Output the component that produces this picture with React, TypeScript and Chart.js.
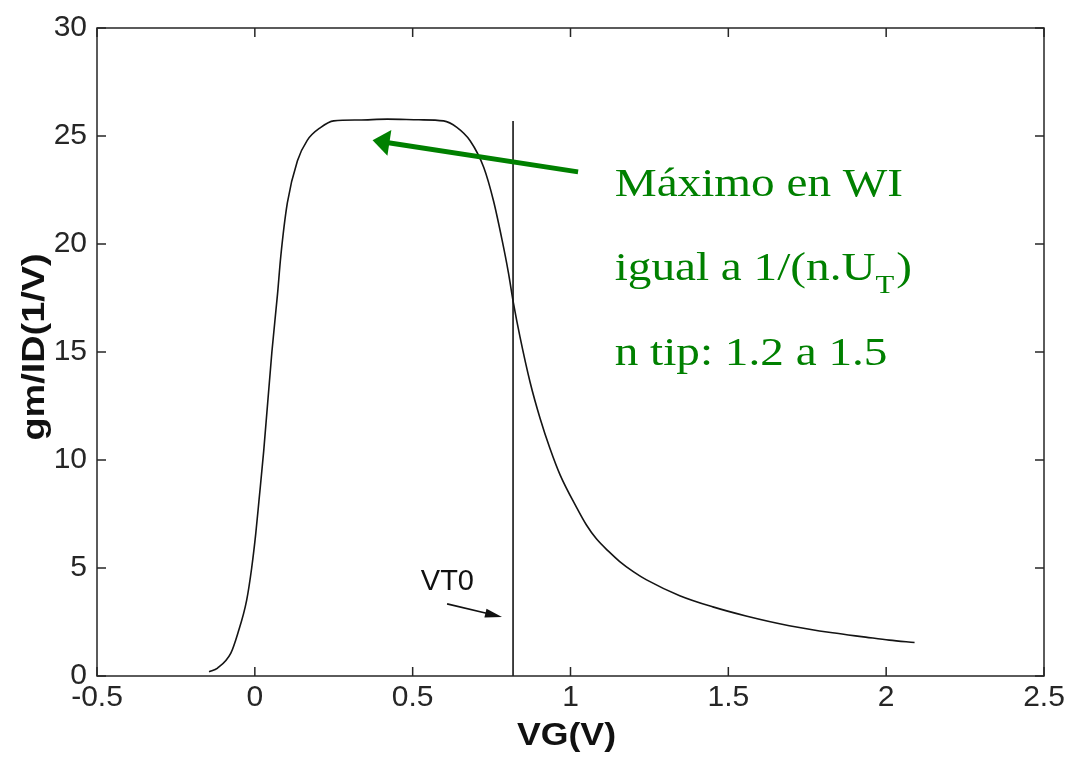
import React, { useEffect, useRef } from "react";
import { Chart, registerables } from "chart.js";

Chart.register(...registerables);

// ---- data ----
const vgValues = [
  -0.145, -0.118, -0.076, -0.054, -0.026, -0.01, 0.003, 0.013, 0.028, 0.054,
  0.072, 0.082, 0.103, 0.135, 0.166, 0.209, 0.25, 0.33, 0.42, 0.52, 0.598,
  0.64, 0.682, 0.725, 0.756, 0.783, 0.803, 0.82, 0.84, 0.872, 0.904, 0.935,
  0.967, 1.02, 1.05, 1.082, 1.12, 1.156, 1.2, 1.241, 1.346, 1.451, 1.556,
  1.693, 1.83, 1.935, 2.01, 2.09,
];
const gmIdValues = [
  0.2, 0.37, 1.06, 1.97, 3.5, 5.0, 6.6, 8.1, 10.4, 15.0, 17.7, 19.4, 21.9,
  23.85, 24.8, 25.4, 25.7, 25.74, 25.78, 25.75, 25.7, 25.4, 24.78, 23.55,
  22.0, 20.2, 18.7, 17.2, 15.7, 13.6, 11.91, 10.53, 9.31, 7.78, 7.0, 6.35,
  5.78, 5.3, 4.82, 4.45, 3.72, 3.2, 2.78, 2.33, 2.0, 1.8, 1.66, 1.55,
];
const vt0Value = 0.818;
const vt0LineTop = 25.7;

const xTickLabels = ["-0.5", "0", "0.5", "1", "1.5", "2", "2.5"];
const yTickLabels = ["0", "5", "10", "15", "20", "25", "30"];

const xTitle = "VG(V)";
const yTitle = "gm/ID(1/V)";
const vt0Label = "VT0";
const noteLines = ["Máximo en WI", "igual a 1/(n.U", "T", ")", "n tip: 1.2 a 1.5"];

// annotation anchors (data units)
const vt0LabelPos = { x: 0.61, y: 4.36 };
const vt0ArrowFrom = { x: 0.609, y: 3.34 };
const vt0ArrowTo = { x: 0.783, y: 2.73 };
const greenArrowFrom = { x: 1.024, y: 23.34 };
const greenArrowTo = { x: 0.373, y: 24.8 };
const noteX = 1.14;
const noteBaselines = [22.23, 18.33, 14.42];

const AXIS_COLOR = "#262626";
const GREEN = "#008000";
const SANS = '"Liberation Sans", Arial, Helvetica, sans-serif';
const SERIF = '"Liberation Serif", "Times New Roman", serif';

function drawArrow(
  ctx: CanvasRenderingContext2D,
  x1: number, y1: number, x2: number, y2: number,
  width: number, headLen: number, headHalf: number, color: string
) {
  const ang = Math.atan2(y2 - y1, x2 - x1);
  const c = Math.cos(ang), s = Math.sin(ang);
  const bx = x2 - headLen * c, by = y2 - headLen * s;
  ctx.save();
  ctx.strokeStyle = color;
  ctx.fillStyle = color;
  ctx.lineWidth = width;
  ctx.lineCap = "butt";
  ctx.beginPath();
  ctx.moveTo(x1, y1);
  ctx.lineTo(bx + c * 1, by + s * 1);
  ctx.stroke();
  ctx.beginPath();
  ctx.moveTo(x2, y2);
  ctx.lineTo(bx - s * headHalf, by + c * headHalf);
  ctx.lineTo(bx + s * headHalf, by - c * headHalf);
  ctx.closePath();
  ctx.fill();
  ctx.restore();
}

function stretchedText(
  ctx: CanvasRenderingContext2D, text: string, x: number, y: number,
  font: string, color: string, sx: number,
  align: CanvasTextAlign = "left", baseline: CanvasTextBaseline = "alphabetic",
  rotation = 0
): number {
  ctx.save();
  ctx.translate(x, y);
  if (rotation) ctx.rotate(rotation);
  ctx.scale(sx, 1);
  ctx.font = font;
  ctx.fillStyle = color;
  ctx.textAlign = align;
  ctx.textBaseline = baseline;
  ctx.fillText(text, 0, 0);
  const w = ctx.measureText(text).width * sx;
  ctx.restore();
  return w;
}

const overlayPlugin = {
  id: "overlay",
  afterDraw(chart: any) {
    const { ctx, chartArea: a } = chart;
    const xs = chart.scales.x;
    const ys = chart.scales.y;
    ctx.save();
    // box
    ctx.strokeStyle = AXIS_COLOR;
    ctx.lineWidth = 1.5;
    ctx.strokeRect(a.left, a.top, a.right - a.left, a.bottom - a.top);
    // inward ticks on all sides
    const tl = 9;
    ctx.beginPath();
    xs.ticks.forEach((t: any) => {
      const px = xs.getPixelForValue(t.value);
      ctx.moveTo(px, a.bottom);
      ctx.lineTo(px, a.bottom - tl);
      ctx.moveTo(px, a.top);
      ctx.lineTo(px, a.top + tl);
    });
    ys.ticks.forEach((t: any) => {
      const py = ys.getPixelForValue(t.value);
      ctx.moveTo(a.left, py);
      ctx.lineTo(a.left + tl, py);
      ctx.moveTo(a.right, py);
      ctx.lineTo(a.right - tl, py);
    });
    ctx.stroke();
    ctx.restore();

    // axis titles
    stretchedText(ctx, xTitle, (a.left + a.right) / 2 - 4, a.bottom + 60,
      `bold 31px ${SANS}`, "#111", 1.15, "center", "middle");
    stretchedText(ctx, yTitle, a.left - 62, (a.top + a.bottom) / 2 - 5,
      `bold 31px ${SANS}`, "#111", 1.22, "center", "middle", -Math.PI / 2);

    // VT0 label and small arrow
    stretchedText(ctx, vt0Label, xs.getPixelForValue(vt0LabelPos.x), ys.getPixelForValue(vt0LabelPos.y),
      `29px ${SANS}`, "#111", 1.0, "center", "middle");
    drawArrow(ctx,
      xs.getPixelForValue(vt0ArrowFrom.x), ys.getPixelForValue(vt0ArrowFrom.y),
      xs.getPixelForValue(vt0ArrowTo.x), ys.getPixelForValue(vt0ArrowTo.y),
      1.6, 17, 4.5, "#111");

    // green arrow
    drawArrow(ctx,
      xs.getPixelForValue(greenArrowFrom.x), ys.getPixelForValue(greenArrowFrom.y),
      xs.getPixelForValue(greenArrowTo.x), ys.getPixelForValue(greenArrowTo.y),
      5, 17, 13, GREEN);

    // green note
    const nx = xs.getPixelForValue(noteX);
    const sx = 1.18;
    const big = `40px ${SERIF}`;
    const small = `26px ${SERIF}`;
    stretchedText(ctx, noteLines[0], nx, ys.getPixelForValue(noteBaselines[0]), big, GREEN, sx);
    const b2 = ys.getPixelForValue(noteBaselines[1]);
    let w = stretchedText(ctx, noteLines[1], nx, b2, big, GREEN, sx);
    w += stretchedText(ctx, noteLines[2], nx + w, b2 + 13, small, GREEN, sx);
    stretchedText(ctx, noteLines[3], nx + w + 2, b2, big, GREEN, sx);
    stretchedText(ctx, noteLines[4], nx, ys.getPixelForValue(noteBaselines[2]), big, GREEN, sx);
  },
};

export default function App() {
  const canvasRef = useRef<HTMLCanvasElement | null>(null);

  useEffect(() => {
    document.body.style.margin = "0";
    const canvas = canvasRef.current;
    if (!canvas) return;
    const curve = vgValues.map((v, i) => ({ x: v, y: gmIdValues[i] }));
    const vtLine = [
      { x: vt0Value, y: 0 },
      { x: vt0Value, y: vt0LineTop },
    ];
    const chart = new Chart(canvas, {
      type: "line",
      data: {
        datasets: [
          {
            label: "gm/ID",
            data: curve,
            borderColor: "#141414",
            borderWidth: 1.6,
            pointRadius: 0,
            cubicInterpolationMode: "monotone",
            fill: false,
          },
          {
            label: "VT0",
            data: vtLine,
            borderColor: "#141414",
            borderWidth: 1.6,
            pointRadius: 0,
            fill: false,
          },
        ],
      },
      options: {
        animation: false,
        responsive: false,
        devicePixelRatio: 1,
        layout: { padding: { top: 23, right: 38, left: 0, bottom: 0 } },
        plugins: {
          legend: { display: false },
          tooltip: { enabled: false },
          title: { display: false },
        },
        scales: {
          x: {
            type: "linear",
            min: -0.5,
            max: 2.5,
            afterFit: (s: any) => { s.height = 81; },
            grid: { display: false, drawTicks: false },
            border: { display: false },
            ticks: {
              stepSize: 0.5,
              autoSkip: false,
              maxRotation: 0,
              padding: 4,
              color: "#262626",
              font: { family: SANS, size: 30 },
              callback: (_v: any, i: number) => xTickLabels[i],
            },
          },
          y: {
            type: "linear",
            min: 0,
            max: 30,
            afterFit: (s: any) => { s.width = 97; },
            grid: { display: false, drawTicks: false },
            border: { display: false },
            ticks: {
              stepSize: 5,
              autoSkip: false,
              padding: 10,
              color: "#262626",
              font: { family: SANS, size: 30 },
              callback: (_v: any, i: number) => yTickLabels[i],
            },
          },
        },
      },
      plugins: [overlayPlugin],
    } as any);
    return () => chart.destroy();
  }, []);

  return (
    <div style={{ width: 1082, height: 757, background: "#fff" }}>
      <canvas ref={canvasRef} width={1082} height={757} style={{ display: "block" }} />
    </div>
  );
}
